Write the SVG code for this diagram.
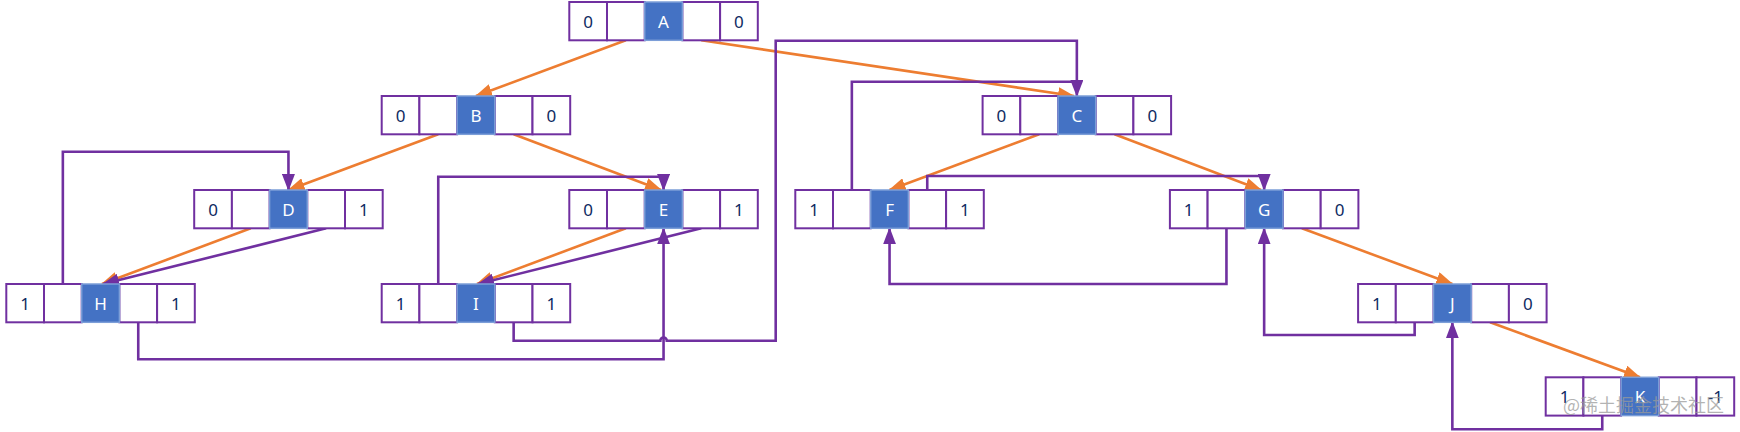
<svg xmlns="http://www.w3.org/2000/svg" width="1740" height="432" viewBox="0 0 1740 432">
<style>
.c{fill:#fff;stroke:#7030A0;stroke-width:2}
.k{fill:#4472C4;stroke:#7C9ED8;stroke-width:1.5}
.t{font-family:"Noto Sans","Open Sans",sans-serif;font-size:17px;fill:#0E2A62;text-anchor:middle;dominant-baseline:central}
.w{fill:#fff}
.o{fill:none;stroke:#ED7D31;stroke-width:2.6;marker-end:url(#ao)}
.p{fill:none;stroke:#7030A0;stroke-width:2.6}
.pa{marker-end:url(#ap)}
.wm{font-family:"Noto Sans CJK SC","Noto Sans",sans-serif;font-size:18px;fill:#9a9a9a;fill-opacity:0.75}
</style>
<defs>
<marker id="ao" markerUnits="userSpaceOnUse" viewBox="0 0 17 13" refX="16" refY="6.5" markerWidth="17" markerHeight="13" orient="auto"><path d="M0,0 L17,6.5 L0,13 Z" fill="#ED7D31"/></marker>
<marker id="ap" markerUnits="userSpaceOnUse" viewBox="0 0 17 13" refX="16" refY="6.5" markerWidth="17" markerHeight="13" orient="auto"><path d="M0,0 L17,6.5 L0,13 Z" fill="#7030A0"/></marker>
<g id="cells">
<rect class="c" x="0" y="0" width="37.7" height="38.3"/>
<rect class="c" x="37.7" y="0" width="37.7" height="38.3"/>
<rect class="c" x="113.1" y="0" width="37.7" height="38.3"/>
<rect class="c" x="150.8" y="0" width="37.7" height="38.3"/>
<rect class="k" x="75.4" y="0" width="37.7" height="38.3"/>
</g>
</defs>
<rect width="1740" height="432" fill="#fff"/>

<g id="connectors">
<path class="o" d="M625.85,40.3 L476,96"/>
<path class="o" d="M701.25,40.3 L1074,96"/>
<path class="o" d="M438.25,134.3 L288.5,190"/>
<path class="o" d="M513.65,134.3 L661,190"/>
<path class="o" d="M1039.15,134.3 L889.5,190"/>
<path class="o" d="M1114.55,134.3 L1261,190"/>
<path class="o" d="M250.75,228.3 L102,284"/>
<path class="o" d="M625.85,228.3 L477,284"/>
<path class="o" d="M1301.85,228.3 L1452.3,284"/>
<path class="o" d="M1490.05,322.3 L1640,377.3"/>

<path class="p pa" d="M326.15,228.3 L103,284"/>
<path class="p pa" d="M701.25,228.3 L478,284"/>
<path class="p pa" d="M62.85,284 V151.7 H288.45 V190"/>
<path class="p pa" d="M138.25,322.3 V359.3 H663.55 V228.3"/>
<path class="p pa" d="M438.25,284 V176.7 H663.55 V190"/>
<path class="p pa" d="M513.65,322.3 V340.7 H660.3 A3.25,3.25 0 0 1 666.8,340.7 H775.7 V40.7 H1076.85 V96"/>
<path class="p" d="M851.85,190 V81.7 H1076.85"/>
<path class="p pa" d="M927.25,190 V176 H1264.15 V190"/>
<path class="p pa" d="M1226.45,228.3 V284 H889.55 V228.3"/>
<path class="p pa" d="M1414.65,322.3 V335 H1264.15 V228.3"/>
<path class="p pa" d="M1602.25,415.6 V429.3 H1452.35 V322.3"/>
</g>

<g id="node-A" transform="translate(569.3,2)"><use href="#cells"/><text class="t" x="18.85" y="19.2">0</text><text class="t w" x="94.25" y="19.2">A</text><text class="t" x="169.65" y="19.2">0</text></g>
<g id="node-B" transform="translate(381.7,96)"><use href="#cells"/><text class="t" x="18.85" y="19.2">0</text><text class="t w" x="94.25" y="19.2">B</text><text class="t" x="169.65" y="19.2">0</text></g>
<g id="node-C" transform="translate(982.6,96)"><use href="#cells"/><text class="t" x="18.85" y="19.2">0</text><text class="t w" x="94.25" y="19.2">C</text><text class="t" x="169.65" y="19.2">0</text></g>
<g id="node-D" transform="translate(194.2,190)"><use href="#cells"/><text class="t" x="18.85" y="19.2">0</text><text class="t w" x="94.25" y="19.2">D</text><text class="t" x="169.65" y="19.2">1</text></g>
<g id="node-E" transform="translate(569.3,190)"><use href="#cells"/><text class="t" x="18.85" y="19.2">0</text><text class="t w" x="94.25" y="19.2">E</text><text class="t" x="169.65" y="19.2">1</text></g>
<g id="node-F" transform="translate(795.3,190)"><use href="#cells"/><text class="t" x="18.85" y="19.2">1</text><text class="t w" x="94.25" y="19.2">F</text><text class="t" x="169.65" y="19.2">1</text></g>
<g id="node-G" transform="translate(1169.9,190)"><use href="#cells"/><text class="t" x="18.85" y="19.2">1</text><text class="t w" x="94.25" y="19.2">G</text><text class="t" x="169.65" y="19.2">0</text></g>
<g id="node-H" transform="translate(6.3,284)"><use href="#cells"/><text class="t" x="18.85" y="19.2">1</text><text class="t w" x="94.25" y="19.2">H</text><text class="t" x="169.65" y="19.2">1</text></g>
<g id="node-I" transform="translate(381.7,284)"><use href="#cells"/><text class="t" x="18.85" y="19.2">1</text><text class="t w" x="94.25" y="19.2">I</text><text class="t" x="169.65" y="19.2">1</text></g>
<g id="node-J" transform="translate(1358.1,284)"><use href="#cells"/><text class="t" x="18.85" y="19.2">1</text><text class="t w" x="94.25" y="19.2">J</text><text class="t" x="169.65" y="19.2">0</text></g>
<g id="node-K" transform="translate(1545.7,377.3)"><use href="#cells"/><text class="t" x="18.85" y="19.2">1</text><text class="t w" x="94.25" y="19.2">K</text><text class="t" x="169.65" y="19.2">-1</text></g>

<text class="wm" x="1563" y="412">@稀土掘金技术社区</text>
</svg>
